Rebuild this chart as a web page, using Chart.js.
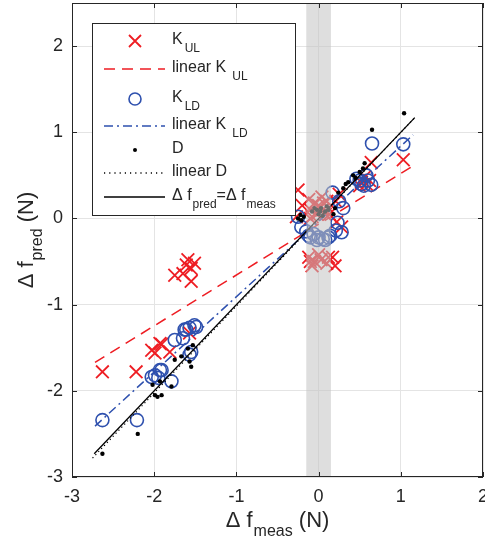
<!DOCTYPE html>
<html>
<head>
<meta charset="utf-8">
<script src="https://cdn.jsdelivr.net/npm/chart.js@4"></script>
<style>
html, body { margin: 0; padding: 0; background: #fff; }
</style>
</head>
<body>
<canvas id="c" width="485" height="541"></canvas>
<script>
// tick values
const xTicks = [-3, -2, -1, 0, 1, 2];
const yTicks = [-3, -2, -1, 0, 1, 2];

// K_UL (red crosses)
const kulX = [-2.63, -2.22, -2.03, -1.99, -1.93, -1.91, -1.81, -1.57, -1.59, -1.55, -1.75, -1.65, -1.55, -1.61, -1.51,
  -0.25, -0.27, -0.2, -0.1, -0.05, 0.0, 0.05, 0.1, -0.08, 0.08, 0.12, -0.12, -0.05, 0.03, 0.1, -0.08,
  -0.12, -0.02, 0.04, 0.13, -0.1, 0.06, 0.0, 0.12, -0.1,
  0.17, 0.2, 0.21, 0.25, 0.28, 0.22, 0.5, 0.52, 0.58, 0.62, 0.56, 0.64, 1.03];
const kulY = [-1.78, -1.78, -1.53, -1.56, -1.45, -1.46, -1.55, -1.33, -0.48, -0.58, -0.66, -0.64, -0.73, -0.54, -0.52,
  0.33, 0.02, 0.15, 0.1, 0.18, 0.15, 0.1, 0.2, 0.02, 0.05, 0.12, -0.45, -0.5, -0.48, -0.52, -0.55,
  0.22, 0.05, 0.25, 0.05, 0.0, 0.18, -0.42, -0.45, -0.5,
  -0.45, -0.55, 0.2, 0.28, -0.1, -0.04, 0.38, 0.42, 0.4, 0.44, 0.48, 0.65, 0.68];

// K_LD (blue circles)
const kldX = [-2.63, -2.21, -2.03, -1.99, -1.95, -1.93, -1.91, -1.79, -1.75, -1.65, -1.63, -1.61, -1.57, -1.51, -1.49, -1.55, -1.57,
  -0.25, -0.21, -0.15, -0.1, -0.02, 0.05, 0.12, -0.12, 0.0, 0.08, 0.14, -0.06,
  0.17, 0.21, 0.25, 0.3, 0.23, 0.28,
  0.46, 0.5, 0.52, 0.58, 0.6, 0.64, 0.55, 0.65, 1.03];
const kldY = [-2.34, -2.34, -1.84, -1.82, -1.85, -1.76, -1.76, -1.89, -1.41, -1.39, -1.29, -1.29, -1.27, -1.24, -1.26, -1.55, -1.58,
  0.02, -0.1, -0.15, -0.22, -0.25, -0.24, -0.22, -0.2, -0.22, -0.25, -0.2, -0.18,
  0.3, -0.14, 0.2, 0.12, -0.05, -0.16,
  0.46, 0.44, 0.4, 0.5, 0.44, 0.39, 0.38, 0.87, 0.86];

// D (black dots)
const dX = [-2.63, -2.2, -2.02, -1.99, -1.96, -1.93, -1.91, -1.79, -1.75, -1.67, -1.59, -1.57, -1.55, -1.53,
  -0.25, -0.21, -0.18, -0.22, -0.08, -0.02, 0.03, 0.08, 0.12, 0.0, 0.05, -0.05, 0.1, 0.02,
  0.18, 0.2, 0.24, 0.3, 0.33, 0.36, 0.42, 0.45, 0.5, 0.54, 0.56, 0.65, 1.04];
const dY = [-2.73, -2.5, -1.93, -2.05, -2.07, -1.89, -2.05, -1.95, -1.64, -1.6, -1.51, -1.66, -1.72, -1.47,
  0.0, -0.02, 0.02, 0.04, 0.08, 0.1, 0.12, 0.08, 0.1, 0.05, 0.03, 0.12, 0.14, 0.08,
  0.05, 0.12, 0.3, 0.35, 0.4, 0.42, 0.5, 0.47, 0.54, 0.58, 0.64, 1.03, 1.22];

// fitted lines (end points)
const linKulX = [-2.72, 1.15], linKulY = [-1.67, 0.61];
const linKldX = [-2.72, 1.15], linKldY = [-2.41, 0.97];
const linDX = [-2.75, 1.17], linDY = [-2.78, 1.17];
const identX = [-2.73, 1.17], identY = [-2.73, 1.17];

// grey band around zero
const bandX = [-0.15, 0.15];

const RED = '#ee1d23';
const BLUE = '#2e50ae';
const INK = '#262626';
const FONT = '"Liberation Sans", Arial, Helvetica, sans-serif';

function pts(xs, ys) {
  return xs.map((x, i) => ({ x: x, y: ys[i] }));
}

// text with subscripts, parts = [text, isSub, extraGap]
function richWidth(ctx, parts, size, subSize) {
  let w = 0;
  parts.forEach(p => {
    ctx.font = (p[1] ? subSize : size) + 'px ' + FONT;
    w += ctx.measureText(p[0]).width + (p[2] || 0);
  });
  return w;
}
function drawRich(ctx, parts, x, y, size, subSize, subDrop) {
  let cx = x;
  parts.forEach(p => {
    cx += p[2] || 0;
    ctx.font = (p[1] ? subSize : size) + 'px ' + FONT;
    ctx.fillText(p[0], cx, p[1] ? y + subDrop : y);
    cx += ctx.measureText(p[0]).width;
  });
}

function noPad(s) {
  s.paddingTop = 0; s.paddingBottom = 0; s.paddingLeft = 0; s.paddingRight = 0;
}

const matlabLook = {
  id: 'matlabLook',
  afterDatasetsDraw(chart) {
    const ctx = chart.ctx, a = chart.chartArea;
    const xs = chart.scales.x, ys = chart.scales.y;
    ctx.save();
    // translucent band over the data
    const b0 = xs.getPixelForValue(bandX[0]), b1 = xs.getPixelForValue(bandX[1]);
    ctx.fillStyle = 'rgba(195,195,195,0.55)';
    ctx.fillRect(b0, a.top, b1 - b0, a.bottom - a.top);

    // box and inward ticks
    ctx.strokeStyle = INK;
    ctx.lineWidth = 1;
    ctx.strokeRect(a.left + 0.5, a.top + 0.5, a.right - a.left - 1, a.bottom - a.top - 1);
    ctx.beginPath();
    xTicks.forEach(v => {
      const p = Math.round(xs.getPixelForValue(v)) + 0.5;
      ctx.moveTo(p, a.bottom); ctx.lineTo(p, a.bottom - 5);
      ctx.moveTo(p, a.top); ctx.lineTo(p, a.top + 5);
    });
    yTicks.forEach(v => {
      const p = Math.round(ys.getPixelForValue(v)) + 0.5;
      ctx.moveTo(a.left, p); ctx.lineTo(a.left + 5, p);
      ctx.moveTo(a.right, p); ctx.lineTo(a.right - 5, p);
    });
    ctx.stroke();
    ctx.restore();
  },
  afterDraw(chart) {
    const ctx = chart.ctx, a = chart.chartArea;
    ctx.save();
    ctx.fillStyle = INK;
    ctx.textBaseline = 'alphabetic';

    // x axis title
    const xt = [['\u0394 f'], ['meas', true, 1], [' (N)']];
    const xw = richWidth(ctx, xt, 22, 16);
    drawRich(ctx, xt, (a.left + a.right) / 2 - xw / 2, 527, 22, 16, 9);

    // y axis title
    const yt = [['\u0394 f'], ['pred', true, 1], [' (N)']];
    const yw = richWidth(ctx, yt, 22, 16);
    ctx.save();
    ctx.translate(33, (a.top + a.bottom) / 2);
    ctx.rotate(-Math.PI / 2);
    drawRich(ctx, yt, -yw / 2, 0, 22, 16, 9);
    ctx.restore();

    // legend
    const L = 92, T = 23, R = 295, B = 215;
    ctx.fillStyle = '#fff';
    ctx.fillRect(L, T, R - L, B - T);
    ctx.strokeStyle = INK;
    ctx.lineWidth = 1;
    ctx.strokeRect(L + 0.5, T + 0.5, R - L, B - T);

    const sx0 = 104, sx1 = 165, mx = 135, tx = 172;
    const rows = [
      { y: 41, kind: 'cross', text: [['K'], ['UL', true, 2]] },
      { y: 69, kind: 'line', color: RED, dash: [11, 7], text: [['linear K'], ['UL', true, 6]] },
      { y: 99, kind: 'circle', text: [['K'], ['LD', true, 2]] },
      { y: 126, kind: 'line', color: BLUE, dash: [9, 4, 2, 4], text: [['linear K'], ['LD', true, 6]] },
      { y: 150, kind: 'dot', text: [['D']] },
      { y: 173, kind: 'line', color: '#000', dash: [1.2, 4], text: [['linear D']] },
      { y: 197, kind: 'line', color: '#000', dash: [], text: [['\u0394 f'], ['pred', true, 1], ['='], ['\u0394 f'], ['meas', true, 1]] }
    ];
    rows.forEach(r => {
      ctx.save();
      if (r.kind === 'line') {
        ctx.strokeStyle = r.color;
        ctx.lineWidth = 1.5;
        ctx.setLineDash(r.dash);
        ctx.beginPath();
        ctx.moveTo(sx0, r.y); ctx.lineTo(sx1, r.y);
        ctx.stroke();
      } else if (r.kind === 'cross') {
        ctx.strokeStyle = RED;
        ctx.lineWidth = 1.8;
        ctx.beginPath();
        ctx.moveTo(mx - 6, r.y - 6); ctx.lineTo(mx + 6, r.y + 6);
        ctx.moveTo(mx + 6, r.y - 6); ctx.lineTo(mx - 6, r.y + 6);
        ctx.stroke();
      } else if (r.kind === 'circle') {
        ctx.strokeStyle = BLUE;
        ctx.lineWidth = 1.6;
        ctx.beginPath();
        ctx.arc(mx, r.y, 6, 0, Math.PI * 2);
        ctx.stroke();
      } else {
        ctx.fillStyle = '#000';
        ctx.beginPath();
        ctx.arc(mx, r.y, 2, 0, Math.PI * 2);
        ctx.fill();
      }
      ctx.restore();
      ctx.fillStyle = INK;
      drawRich(ctx, r.text, tx, r.y + 3, 16, 12, 8);
    });
    ctx.restore();
  }
};

new Chart(document.getElementById('c').getContext('2d'), {
  type: 'scatter',
  data: {
    datasets: [
      { label: 'K_UL', data: pts(kulX, kulY), order: 7, pointStyle: 'crossRot', pointRadius: 9, pointHoverRadius: 9,
        borderColor: RED, backgroundColor: RED, pointBorderWidth: 1.8 },
      { label: 'linear K_UL', data: pts(linKulX, linKulY), order: 6, showLine: true, pointRadius: 0,
        borderColor: RED, borderWidth: 1.5, borderDash: [11, 7] },
      { label: 'K_LD', data: pts(kldX, kldY), order: 5, pointStyle: 'circle', pointRadius: 6.5, pointHoverRadius: 6.5,
        borderColor: BLUE, backgroundColor: 'rgba(0,0,0,0)', pointBorderWidth: 1.6 },
      { label: 'linear K_LD', data: pts(linKldX, linKldY), order: 4, showLine: true, pointRadius: 0,
        borderColor: BLUE, borderWidth: 1.5, borderDash: [9, 4, 2, 4] },
      { label: 'D', data: pts(dX, dY), order: 3, pointStyle: 'circle', pointRadius: 2.2, pointHoverRadius: 2.2,
        borderColor: '#000', backgroundColor: '#000', pointBorderWidth: 0 },
      { label: 'linear D', data: pts(linDX, linDY), order: 2, showLine: true, pointRadius: 0,
        borderColor: '#000', borderWidth: 1.2, borderDash: [1.2, 3] },
      { label: 'ident', data: pts(identX, identY), order: 1, showLine: true, pointRadius: 0,
        borderColor: '#000', borderWidth: 1.3 }
    ]
  },
  options: {
    responsive: false,
    animation: false,
    events: [],
    layout: { autoPadding: false, padding: { top: 3, right: 2, left: 0, bottom: 0 } },
    plugins: { legend: { display: false }, tooltip: { enabled: false } },
    scales: {
      x: {
        type: 'linear', min: -3, max: 2,
        afterBuildTicks: s => { s.ticks = xTicks.map(v => ({ value: v })); },
        afterFit: s => { s.height = 64; noPad(s); },
        grid: { color: '#e4e4e4', lineWidth: 1, drawTicks: false },
        border: { display: false },
        ticks: { color: INK, padding: 9, font: { family: FONT, size: 18 } }
      },
      y: {
        type: 'linear', min: -3, max: 2.5,
        afterBuildTicks: s => { s.ticks = yTicks.map(v => ({ value: v })); },
        afterFit: s => { s.width = 72; noPad(s); },
        grid: { color: '#e4e4e4', lineWidth: 1, drawTicks: false },
        border: { display: false },
        ticks: { color: INK, padding: 9, font: { family: FONT, size: 18 } }
      }
    }
  },
  plugins: [matlabLook]
});
</script>
</body>
</html>
